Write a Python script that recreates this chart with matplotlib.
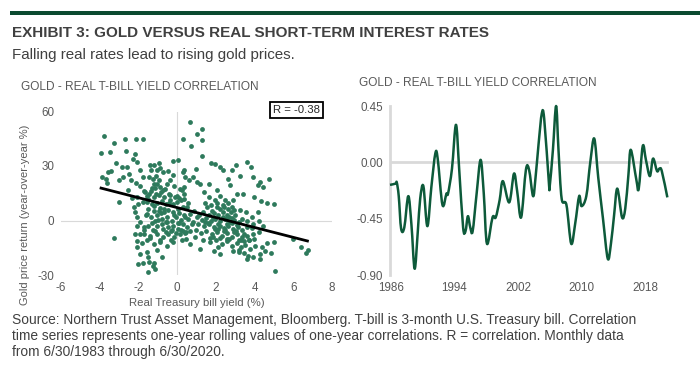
import numpy as np
import matplotlib
matplotlib.use("Agg")
import matplotlib.pyplot as plt
from matplotlib.path import Path
from matplotlib.patches import PathPatch

plt.rcParams['font.family'] = ['Liberation Sans', 'DejaVu Sans']
plt.rcParams['axes.unicode_minus'] = False

# ---------------------------------------------------------------
# Datos
# ---------------------------------------------------------------
# Dispersión: rendimiento real de la letra del Tesoro (%) vs retorno del oro (%)
yield_x = [
    -3.77, -3.94, -3.25, -3.49, -3.15, -2.67, -2.15, -1.74, -2.29, -2.19, -2.65, -2.84, -2.58,
    -3.55, -3.42, -3.86, -3.67, -3.60, -2.98, -2.81, -2.50, -2.39, -2.05, -1.91, -1.77, -2.12,
    -1.91, -2.53, -2.98, -3.25, -1.70, -1.57, -2.08, -2.22, -2.00, -1.77,
    -1.39, -1.36, -1.19, -0.96, -0.88, -0.74, -1.05, -0.45, -0.22, -1.43, -1.26, -1.08, -0.95,
    -1.19, -1.02, -1.12, -0.91, -1.31, -0.71, -0.53, -0.36, -0.19, 0.07, -0.15, 0.16, 0.24, 0.33,
    -1.43, -1.22, -0.96, -0.67, -1.57, -1.31, -1.05, -0.79, -0.57, -0.36, -0.19, -0.02, 0.19,
    -1.48, -1.19, -0.91, -0.67, -0.45, -0.22, 0.02, 0.29, 0.50,
    -1.60, -1.36, -1.05, -0.79, -0.53, -0.28, -0.05, 0.19, 0.41, 0.64,
    -2.05, -1.91, -1.70, -2.08, -1.48, -1.26, -1.05, -0.71, -0.45, -0.19, 0.07, 0.29, 0.50, 0.76,
    -1.94, -1.70, -1.39, -1.02, -0.74, -0.45, -0.15, 0.16, 0.41, 0.67,
    -2.08, -1.82, -1.57, -1.19, -0.91, -1.94, -1.57, -1.48, -1.05, -1.22, -1.43, -1.74, -1.48,
    -1.14, -1.26, -0.79, -0.53, -0.19, 0.24, -2.00,
    0.67, 1.27, 1.02, 1.27, 0.29, 0.72, 1.26, 0.98, 0.36, 0.29, 0.43, 0.59, 0.84, 1.02, 1.19,
    1.74, 1.96, 2.19, 2.36, 2.82, 3.05, 3.60, 3.80, 2.65, 3.25, 3.94, 4.29, 4.72, 4.46, 4.20,
    3.98, 4.32, 4.63, 5.01, 2.05, 1.62, 2.74, 3.08, 3.39, 1.39, 1.67, 1.96, 2.22, 2.48, 2.91,
    1.53, 1.79, 2.05, 2.22, 2.43, 2.65, 2.82,
    1.36, 1.62, 1.88, 2.13, 2.36, 2.56, 2.77, 3.00,
    1.02, 1.27, 1.50, 1.74, 1.96, 2.22, 2.48, 2.74, 2.94, 3.17,
    0.84, 1.10, 1.39, 1.67, 1.91, 2.19, 2.43, 2.65, 2.91, 3.12, 3.34, 3.60,
    0.98, 1.22, 1.50, 1.79, 2.05, 2.31, 2.56, 2.82, 3.08, 3.34, 3.63, 3.94, 4.25,
    1.36, 1.70, 2.01, 2.31, 2.56, 2.82, 3.08, 3.29, 3.51, 3.77, 4.03,
    2.13, 2.91, 3.17, 3.43, 3.68, 3.60, 3.94, 4.29, 4.55, 4.84, 5.01, 4.63, 4.37,
    4.25, 4.46, 4.20, 3.85, 3.94, 5.06, 6.01, 6.40, 6.66, 6.78, 4.29, 2.22, 1.91,
    0.67, 1.19, 0.93, -2.34, -2.17, -2.17, -2.08,
    -0.60, -0.30, 0.10, 0.45, -0.85, -1.15, -0.40, 0.00, 0.35, 0.55, 0.85, 1.15, 1.45,
    2.40, 2.60, 2.85, 3.05, 3.30, 2.50, 2.70, 1.85, 2.10, 3.20, 3.45, 3.70,
    -1.65, -1.35, -1.10, -0.85, -0.62, -0.38, -0.12, 0.12, 0.38,
    -1.55, -1.28, -1.00, -0.78, -0.50, -0.25, 0.05, 0.30, 0.55,
    -1.70, -1.40, -1.12, -0.88, -0.60, -0.32, -0.08, 0.20, 0.46,
    -1.50, -1.22, -0.95, -0.68, -0.42, -0.18, 0.10, 0.36,
    1.60, 1.85, 2.10, 2.35, 2.60, 2.85, 3.10, 3.35, 3.60,
    1.70, 1.95, 2.20, 2.45, 2.70, 2.95, 3.20, 3.45, 3.70, 3.95,
    1.45, 1.75, 2.05, 2.35, 2.65, 2.95, 3.25, 3.55, 3.85,
]
gold_y = [
    46.7, 37.3, 42.8, 37.8, 31.7, 44.8, 45.0, 45.0, 33.8, 36.5, 38.4, 29.5, 29.2,
    26.6, 27.3, 24.0, 22.9, 20.7, 22.1, 24.0, 25.5, 22.5, 32.1, 28.0, 24.0, 20.7,
    18.8, 16.6, 10.1, -9.6, 16.2, 13.7, 12.9, 7.4, 8.9, 10.1,
    30.4, 27.7, 30.3, 31.4, 29.0, 26.8, 28.0, 27.3, 25.3, 24.0, 23.1, 24.4, 22.5,
    20.3, 19.9, 18.1, 18.5, 18.1, 16.6, 20.3, 22.1, 32.8, 33.2, 18.8, 17.5, 16.6, 18.5,
    14.8, 12.9, 13.8, 12.9, 10.1, 8.9, 9.6, 10.7, 8.9, 11.1, 8.9, 10.1, 11.1,
    6.5, 5.5, 7.0, 4.6, 5.9, 4.6, 6.5, 7.4, 7.7,
    3.3, 1.8, 2.8, 0.9, 2.2, 0.0, 1.8, 0.4, 2.2, 3.7,
    1.8, -0.9, -3.7, -3.3, -2.8, -5.2, -2.8, -4.6, -3.7, -2.8, -4.6, -2.2, -3.7, -1.8,
    -7.4, -7.7, -8.3, -7.4, -9.2, -7.7, -9.2, -7.7, -7.0, -5.9,
    -11.1, -12.5, -10.7, -12.9, -12.0, -18.5, -17.5, -20.3, -16.2, -23.6, -23.1, -23.6, -28.6,
    -26.8, -24.9, -20.3, -13.8, -12.0, -10.7, -24.0,
    54.1, 50.2, 47.4, 44.3, 44.8, 40.9, 35.6, 28.6, 28.0, 26.6, 24.0, 22.1, 24.0, 21.2, 20.3,
    31.4, 31.0, 29.2, 27.7, 28.0, 30.8, 32.3, 29.5, 23.1, 24.4, 24.0, 21.2, 23.1, 18.5, 19.4,
    12.9, 10.7, 9.6, 8.9, 16.6, 19.9, 19.4, 14.8, 14.8, 15.7, 12.9, 11.1, 13.3, 11.1, 11.4,
    7.4, 5.5, 7.7, 6.5, 7.7, 6.5, 7.7,
    4.6, 3.3, 4.1, 2.8, 4.6, 3.3, 4.6, 3.3,
    1.8, 0.4, 1.5, 0.0, 0.9, -0.4, 0.9, -0.9, 0.4, -0.9,
    -0.9, -2.2, -3.3, -2.2, -3.7, -2.8, -4.1, -3.3, -4.6, -3.7, -5.2, -3.7,
    -5.5, -7.0, -5.9, -7.7, -6.5, -8.3, -7.0, -8.9, -7.7, -9.2, -8.3, -7.4, -6.5,
    -10.7, -12.0, -10.7, -12.9, -11.4, -13.8, -12.5, -14.8, -13.3, -15.7, -13.8,
    -14.8, -16.6, -17.5, -18.1, -19.4, -21.2, -20.3, -18.5, -17.0, -18.1, -12.0, -12.5, -14.8,
    0.0, -2.8, 4.6, 1.8, -1.8, -28.0, -10.1, -14.4, -18.1, -16.2, -21.2, -18.5, -16.6,
    -12.9, -15.7, -9.2, 12.5, 4.6, -7.4, -14.8,
    -1.0, -6.0, -1.5, -6.5, 4.0, -0.5, 14.5, 13.5, 12.0, 9.5, 5.0, 3.0, -1.0,
    -6.0, -10.0, -1.5, -6.0, -11.0, 1.0, 2.0, -9.0, -4.5, -16.0, -11.5, -10.5,
    15.5, 16.5, 14.5, 15.8, 17.5, 14.0, 13.0, 12.5, 14.8,
    3.8, -1.2, 0.5, -2.0, -0.8, -5.5, -1.5, -5.8, 0.8,
    -5.0, -9.5, -6.0, -10.5, -6.3, -10.8, -6.8, -5.2, -10.2,
    11.8, 7.8, 5.0, 6.2, 9.8, 2.8, 4.0, 3.2,
    -1.5, 1.6, -2.0, 2.0, -1.8, 1.5, -2.5, 0.8, -0.5,
    -9.8, -4.8, -9.5, -5.5, -10.0, -6.2, -10.5, -7.2, -11.0, -10.2,
    9.5, 8.8, 9.8, 8.5, 9.5, 5.8, 6.0, 4.5, -4.0,
]

# Recta de regresión (pendiente, intercepto) y extremos en x
trend_slope = -2.73
trend_intercept = 7.1
trend_x_range = [-4.0, 6.8]
r_label = "R = -0.38"

# Serie de correlación móvil (año decimal, correlación)
corr_year = [
    1985.9, 1986.6, 1986.75, 1987.0, 1987.3, 1987.7, 1988.2, 1988.6, 1989.0, 1989.4, 1989.7,
    1990.1, 1990.6, 1991.1, 1991.6, 1991.9, 1992.5, 1993.0, 1993.2, 1993.7, 1994.2, 1994.6,
    1995.1, 1995.4, 1995.7, 1996.0, 1996.3, 1996.8, 1997.3, 1997.7, 1998.1, 1998.8, 1999.2,
    1999.7, 2000.1, 2000.9, 2001.5, 2001.9, 2002.4, 2003.0, 2003.4, 2003.9, 2004.2, 2004.6,
    2005.0, 2005.3, 2005.9, 2006.0, 2006.4, 2006.8, 2007.1, 2007.5, 2008.1, 2008.7, 2009.2,
    2009.7, 2010.0, 2010.6, 2011.1, 2011.6, 2012.1, 2012.7, 2013.3, 2013.7, 2014.1, 2014.5,
    2015.1, 2015.5, 2015.9, 2016.2, 2016.9, 2017.2, 2017.7, 2018.1, 2018.6, 2019.0, 2019.5,
    2019.8, 2020.1, 2020.8,
]
corr_value = [
    -0.18, -0.17, -0.16, -0.27, -0.53, -0.52, -0.27, -0.50, -0.85, -0.55, -0.29,
    -0.19, -0.51, -0.20, 0.07, 0.03, -0.34, -0.25, -0.25, -0.05, 0.30, -0.05,
    -0.52, -0.55, -0.43, -0.52, -0.55, -0.25, 0.02, -0.25, -0.65, -0.44, -0.44,
    -0.30, -0.15, -0.32, -0.09, -0.23, -0.44, -0.06, -0.06, -0.27, -0.13, 0.15,
    0.39, 0.35, -0.17, -0.19, 0.10, 0.45, 0.10, -0.29, -0.34, -0.65, -0.49,
    -0.27, -0.35, -0.27, 0.00, 0.19, -0.12, -0.45, -0.77, -0.65, -0.42, -0.21,
    -0.44, -0.37, -0.10, 0.10, -0.14, -0.21, 0.13, 0.02, -0.11, 0.03, -0.07,
    -0.05, -0.07, -0.28,
]
corr_year_ticks = [1986, 1994, 2002, 2010, 2018]
corr_value_ticks = [0.45, 0.00, -0.45, -0.90]

# ---------------------------------------------------------------
# Estilo
# ---------------------------------------------------------------
verde_oscuro = '#0d5a3a'
verde_puntos = '#2e7a5c'
gris_texto = '#595959'
gris_titulo = '#404040'
gris_linea = '#d9d9d9'
tam_ticks = 8.4

W, H = 700, 383
fig = plt.figure(figsize=(7.0, 3.83), dpi=100)


def rect(x0, y0, x1, y1):
    # convierte pixeles (desde arriba a la izquierda) a fracciones de figura
    return [x0 / W, 1 - y1 / H, (x1 - x0) / W, (y1 - y0) / H]


def curva_suave(xs, ys):
    # trazo suave que pasa por cada punto (Catmull-Rom -> Bezier cúbica)
    p = np.column_stack([xs, ys])
    verts = [p[0]]
    codes = [Path.MOVETO]
    for i in range(len(p) - 1):
        p0 = p[i - 1] if i > 0 else p[i]
        p3 = p[i + 2] if i + 2 < len(p) else p[i + 1]
        c1 = p[i] + (p[i + 1] - p0) / 6.0
        c2 = p[i + 1] - (p3 - p[i]) / 6.0
        verts += [c1, c2, p[i + 1]]
        codes += [Path.CURVE4] * 3
    return Path(verts, codes)


# Barra verde superior
fig.add_artist(plt.Rectangle((10 / W, 1 - 15 / H), 690 / W, 4.5 / H,
                             transform=fig.transFigure, color='#0b4a30', lw=0))

fig.text(12 / W, 1 - 33 / H, "EXHIBIT 3: GOLD VERSUS REAL SHORT-TERM INTEREST RATES",
         fontsize=11.0, fontweight='bold', color=gris_titulo, va='center')
fig.text(12 / W, 1 - 55 / H, "Falling real rates lead to rising gold prices.",
         fontsize=10.9, color=gris_titulo, va='center')

fig.text(21 / W, 1 - 87 / H, "GOLD - REAL T-BILL YIELD CORRELATION",
         fontsize=8.6, color=gris_texto, va='center')
fig.text(359 / W, 1 - 83 / H, "GOLD - REAL T-BILL YIELD CORRELATION",
         fontsize=8.6, color=gris_texto, va='center')

# ---------------------------------------------------------------
# Panel izquierdo: dispersión
# ---------------------------------------------------------------
ax1 = fig.add_axes(rect(61, 111.5, 332, 275))
ax1.set_xlim(-6, 8)
ax1.set_ylim(-30, 60)
ax1.axvline(0, color=gris_linea, lw=0.8, zorder=0)
ax1.axhline(0, color=gris_linea, lw=0.8, zorder=0)
ax1.scatter(yield_x, gold_y, s=12, color=verde_puntos, lw=0, zorder=2, clip_on=False)

xs = np.array(trend_x_range)
ax1.plot(xs, trend_slope * xs + trend_intercept, color='black', lw=2.0, zorder=3,
         solid_capstyle='butt')

for s in ax1.spines.values():
    s.set_visible(False)
ax1.set_xticks([-6, -4, -2, 0, 2, 4, 6, 8])
ax1.set_yticks([-30, 0, 30, 60])
ax1.tick_params(length=0, labelsize=tam_ticks, labelcolor=gris_texto, pad=5)
ax1.set_xlabel("Real Treasury bill yield (%)", fontsize=8.2, color=gris_texto, labelpad=3)
ax1.set_ylabel("Gold price return (year-over-year %)", fontsize=8.0, color=gris_texto)
ax1.yaxis.set_label_coords(-0.115, 0.37)
ax1.text(0.955, 1.01, r_label, transform=ax1.transAxes, ha='right', va='center',
         fontsize=8.2, color='#262626',
         bbox=dict(boxstyle='square,pad=0.25', fc='white', ec='black', lw=1.3))

# ---------------------------------------------------------------
# Panel derecho: serie temporal de correlación
# ---------------------------------------------------------------
ax2 = fig.add_axes(rect(390, 106, 670, 275))
ax2.set_xlim(1986 - 0.1, 1986 + 280 / 7.97)
ax2.set_ylim(-0.90, 0.45)
ax2.axhline(0, xmin=0, xmax=0.99, color=gris_linea, lw=2, zorder=1)
ax2.add_patch(PathPatch(curva_suave(corr_year, corr_value), fc='none', ec=verde_oscuro,
                        lw=1.8, zorder=3, clip_on=False, joinstyle='round'))
for k, s in ax2.spines.items():
    s.set_visible(k == 'left')
ax2.spines['left'].set_color(gris_linea)
ax2.spines['left'].set_linewidth(2)
ax2.set_xticks(corr_year_ticks)
ax2.set_yticks(corr_value_ticks)
ax2.set_yticklabels([f"{v:.2f}" for v in corr_value_ticks])
ax2.tick_params(length=0, labelsize=tam_ticks, labelcolor=gris_texto, pad=5)

# ---------------------------------------------------------------
# Nota al pie
# ---------------------------------------------------------------
nota = ("Source: Northern Trust Asset Management, Bloomberg. T-bill is 3-month U.S. Treasury bill. Correlation\n"
        "time series represents one-year rolling values of one-year correlations. R = correlation. Monthly data\n"
        "from 6/30/1983 through 6/30/2020.")
fig.text(12 / W, 1 - 313 / H, nota, fontsize=9.9, color=gris_titulo, va='top', linespacing=1.17)

fig.savefig("out.png", dpi=100)
